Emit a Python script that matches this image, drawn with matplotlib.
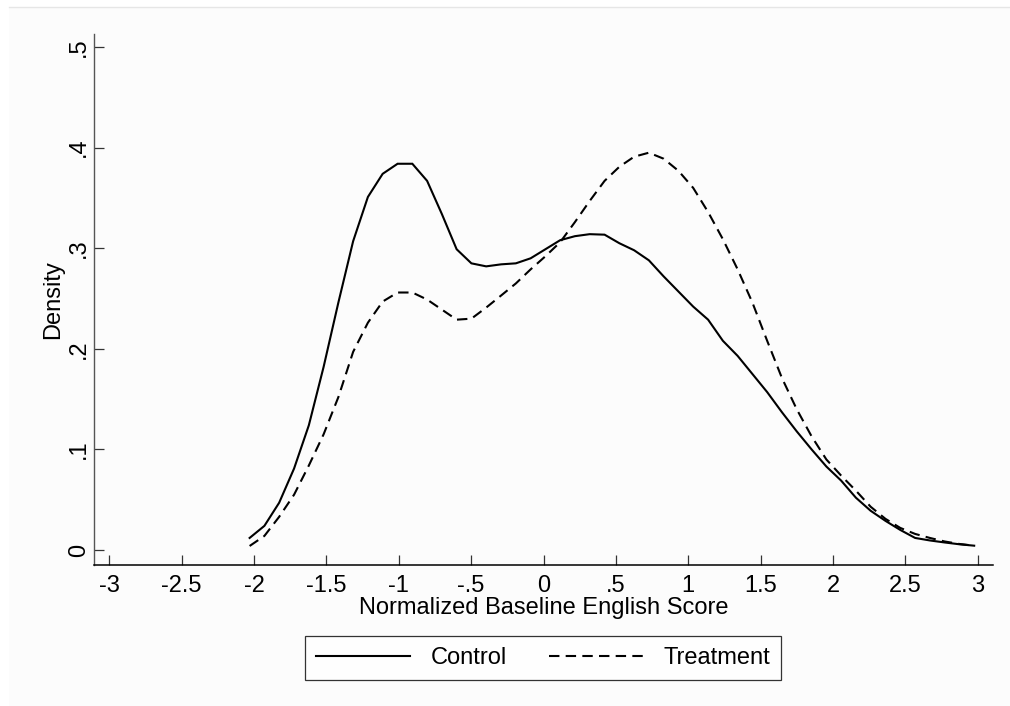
import matplotlib
matplotlib.use("Agg")
import matplotlib.pyplot as plt
from matplotlib.patches import Rectangle
from matplotlib.lines import Line2D

plt.rcParams['font.family'] = ['Liberation Sans', 'DejaVu Sans']

# Evaluation grid (50 points, as in a kernel density estimate)
x_grid = [-2.030, -1.928, -1.826, -1.723, -1.621, -1.519, -1.417, -1.315, -1.213, -1.111,
          -1.008, -0.906, -0.804, -0.702, -0.600, -0.498, -0.396, -0.293, -0.191, -0.089,
          0.013, 0.115, 0.217, 0.319, 0.422, 0.524, 0.626, 0.728, 0.830, 0.932,
          1.034, 1.137, 1.239, 1.341, 1.443, 1.545, 1.647, 1.749, 1.852, 1.954,
          2.056, 2.158, 2.260, 2.362, 2.464, 2.567, 2.669, 2.771, 2.873, 2.975]

control = [0.012, 0.024, 0.047, 0.081, 0.124, 0.182, 0.246, 0.307, 0.351, 0.374,
           0.384, 0.384, 0.367, 0.334, 0.299, 0.285, 0.282, 0.284, 0.285, 0.290,
           0.299, 0.308, 0.312, 0.314, 0.3135, 0.305, 0.298, 0.288, 0.272, 0.257,
           0.242, 0.229, 0.208, 0.193, 0.175, 0.157, 0.137, 0.118, 0.100, 0.083,
           0.069, 0.052, 0.039, 0.029, 0.020, 0.012, 0.0095, 0.0075, 0.0057, 0.0043]

treatment = [0.004, 0.014, 0.033, 0.055, 0.084, 0.115, 0.152, 0.197, 0.226, 0.247,
             0.256, 0.256, 0.249, 0.239, 0.229, 0.230, 0.241, 0.253, 0.265, 0.279,
             0.292, 0.306, 0.326, 0.347, 0.367, 0.381, 0.391, 0.395, 0.389, 0.377,
             0.360, 0.336, 0.309, 0.279, 0.246, 0.208, 0.171, 0.140, 0.113, 0.090,
             0.074, 0.059, 0.043, 0.031, 0.022, 0.016, 0.012, 0.0085, 0.006, 0.0043]

x_ticks = [-3, -2.5, -2, -1.5, -1, -0.5, 0, 0.5, 1, 1.5, 2, 2.5, 3]
x_tick_labels = ['-3', '-2.5', '-2', '-1.5', '-1', '-.5', '0', '.5', '1', '1.5', '2', '2.5', '3']
y_ticks = [0, 0.1, 0.2, 0.3, 0.4, 0.5]
y_tick_labels = ['0', '.1', '.2', '.3', '.4', '.5']

FS = 17
W, H = 1010, 706
fig = plt.figure(figsize=(W / 100, H / 100), dpi=100)
fig.patch.set_facecolor('white')

# faint screenshot-like background panel with a light top border
bg = Rectangle((9 / W, 0), 1 - 9 / W, 1 - 7 / H, transform=fig.transFigure,
               facecolor='#fcfcfc', edgecolor='none', zorder=-10)
fig.patches.append(bg)
fig.add_artist(Line2D([9 / W, 1], [1 - 7 / H, 1 - 7 / H], transform=fig.transFigure,
                      color='#e6e6e6', lw=1.0))

ax = fig.add_axes([94 / W, 1 - 565 / H, (993 - 94) / W, (565 - 34) / H])
ax.set_facecolor('none')

ax.plot(x_grid, control, color='black', lw=1.5, solid_joinstyle='miter', label='Control')
ax.plot(x_grid, treatment, color='black', lw=1.5, dashes=(5, 3), label='Treatment')

ax.set_xlim(-3.105, 3.105)
ax.set_ylim(-0.0149, 0.513)

for s in ['top', 'right']:
    ax.spines[s].set_visible(False)
ax.spines['left'].set_color('#555555')
ax.spines['left'].set_linewidth(1.0)
ax.spines['bottom'].set_color('black')
ax.spines['bottom'].set_linewidth(1.1)

ax.set_xticks(x_ticks)
ax.set_xticklabels(x_tick_labels)
ax.set_yticks(y_ticks)
ax.set_yticklabels(y_tick_labels, rotation=90, va='center')

ax.tick_params(axis='x', direction='in', length=7, width=0.9, color='#333333',
               labelsize=FS, pad=7)
ax.tick_params(axis='y', direction='in', length=7.5, width=0.9, color='#333333',
               labelsize=FS, pad=3)

ax.set_xlabel('Normalized Baseline English Score', fontsize=FS, labelpad=0)
ax.set_ylabel('Density', fontsize=FS, labelpad=3)

leg = fig.legend(handles=ax.get_lines(), labels=['Control', 'Treatment'],
                 loc='center', bbox_to_anchor=(543 / W, 1 - 658 / H),
                 ncol=2, fontsize=FS, frameon=True, fancybox=False,
                 handlelength=4.0, handletextpad=0.85, columnspacing=1.8,
                 borderpad=0.45, borderaxespad=0)
leg.get_frame().set_edgecolor('black')
leg.get_frame().set_linewidth(0.9)
leg.get_frame().set_facecolor('white')

fig.savefig('out.png', dpi=100, facecolor=fig.get_facecolor())
